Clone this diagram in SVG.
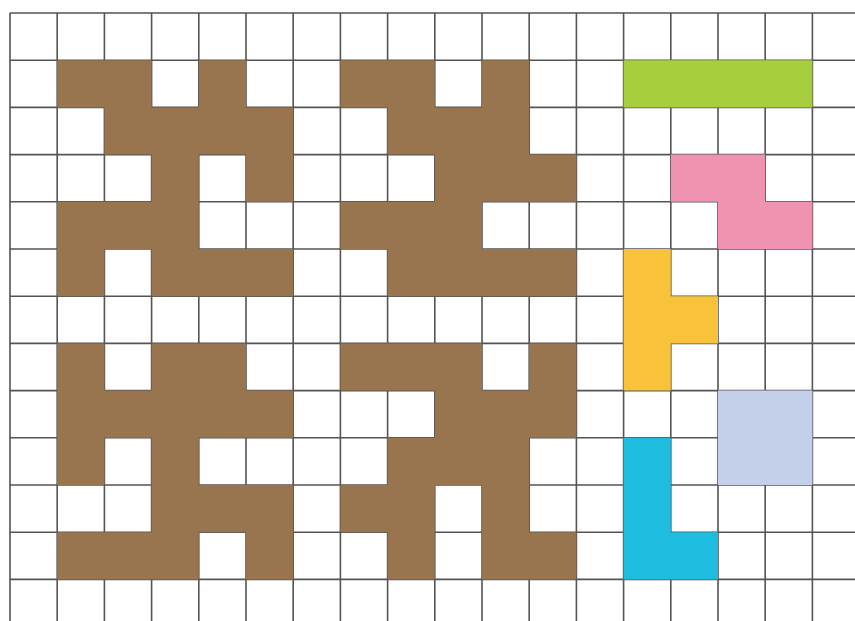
<svg xmlns="http://www.w3.org/2000/svg" width="855" height="621" viewBox="0 0 855 621">
<style>
.grid{stroke:#545454;stroke-width:1.6;fill:none}
.brown{fill:#98754f}
.green{fill:#a6ce3d}
.pink{fill:#ef93b1}
.yellow{fill:#f8c33a}
.lav{fill:#c4d0e9}
.cyan{fill:#1ebde0}
</style>
<rect width="855" height="621" fill="#ffffff"/>
<g id="grid">
<path class="grid" d="M10 13V621M57.2 13V621M104.4 13V621M151.6 13V621M198.8 13V621M246 13V621M293.2 13V621M340.4 13V621M387.6 13V621M434.8 13V621M482 13V621M529.2 13V621M576.4 13V621M623.6 13V621M670.8 13V621M718 13V621M765.2 13V621M812.4 13V621"/>
<path class="grid" d="M10 13H855M10 60.2H855M10 107.4H855M10 154.6H855M10 201.8H855M10 249H855M10 296.2H855M10 343.4H855M10 390.6H855M10 437.8H855M10 485H855M10 532.2H855M10 579.4H855"/>
</g>
<g transform="translate(10 13) scale(47.2)">
<path id="maze" class="brown" d="M1 1h2v1h-2zM4 1h1v1h-1zM7 1h2v1h-2zM10 1h1v1h-1z
M2 2h4v1h-4zM8 2h3v1h-3z
M3 3h1v1h-1zM5 3h1v1h-1zM9 3h3v1h-3z
M1 4h3v1h-3zM7 4h3v1h-3z
M1 5h1v1h-1zM3 5h3v1h-3zM8 5h4v1h-4z
M1 7h1v1h-1zM3 7h2v1h-2zM7 7h3v1h-3zM11 7h1v1h-1z
M1 8h5v1h-5zM9 8h3v1h-3z
M1 9h1v1h-1zM3 9h1v1h-1zM8 9h3v1h-3z
M3 10h3v1h-3zM7 10h2v1h-2zM10 10h1v1h-1z
M1 11h3v1h-3zM5 11h1v1h-1zM8 11h1v1h-1zM10 11h2v1h-2z"/>
<path id="piece-green" class="green" d="M13 1h4v1h-4z"/>
<path id="piece-pink" class="pink" d="M14 3h2v1h1v1h-2v-1h-1z"/>
<path id="piece-yellow" class="yellow" d="M13 5h1v1h1v1h-1v1h-1z"/>
<path id="piece-lavender" class="lav" d="M15 8h2v2h-2z"/>
<path id="piece-cyan" class="cyan" d="M13 9h1v2h1v1h-2z"/>
</g>
</svg>
